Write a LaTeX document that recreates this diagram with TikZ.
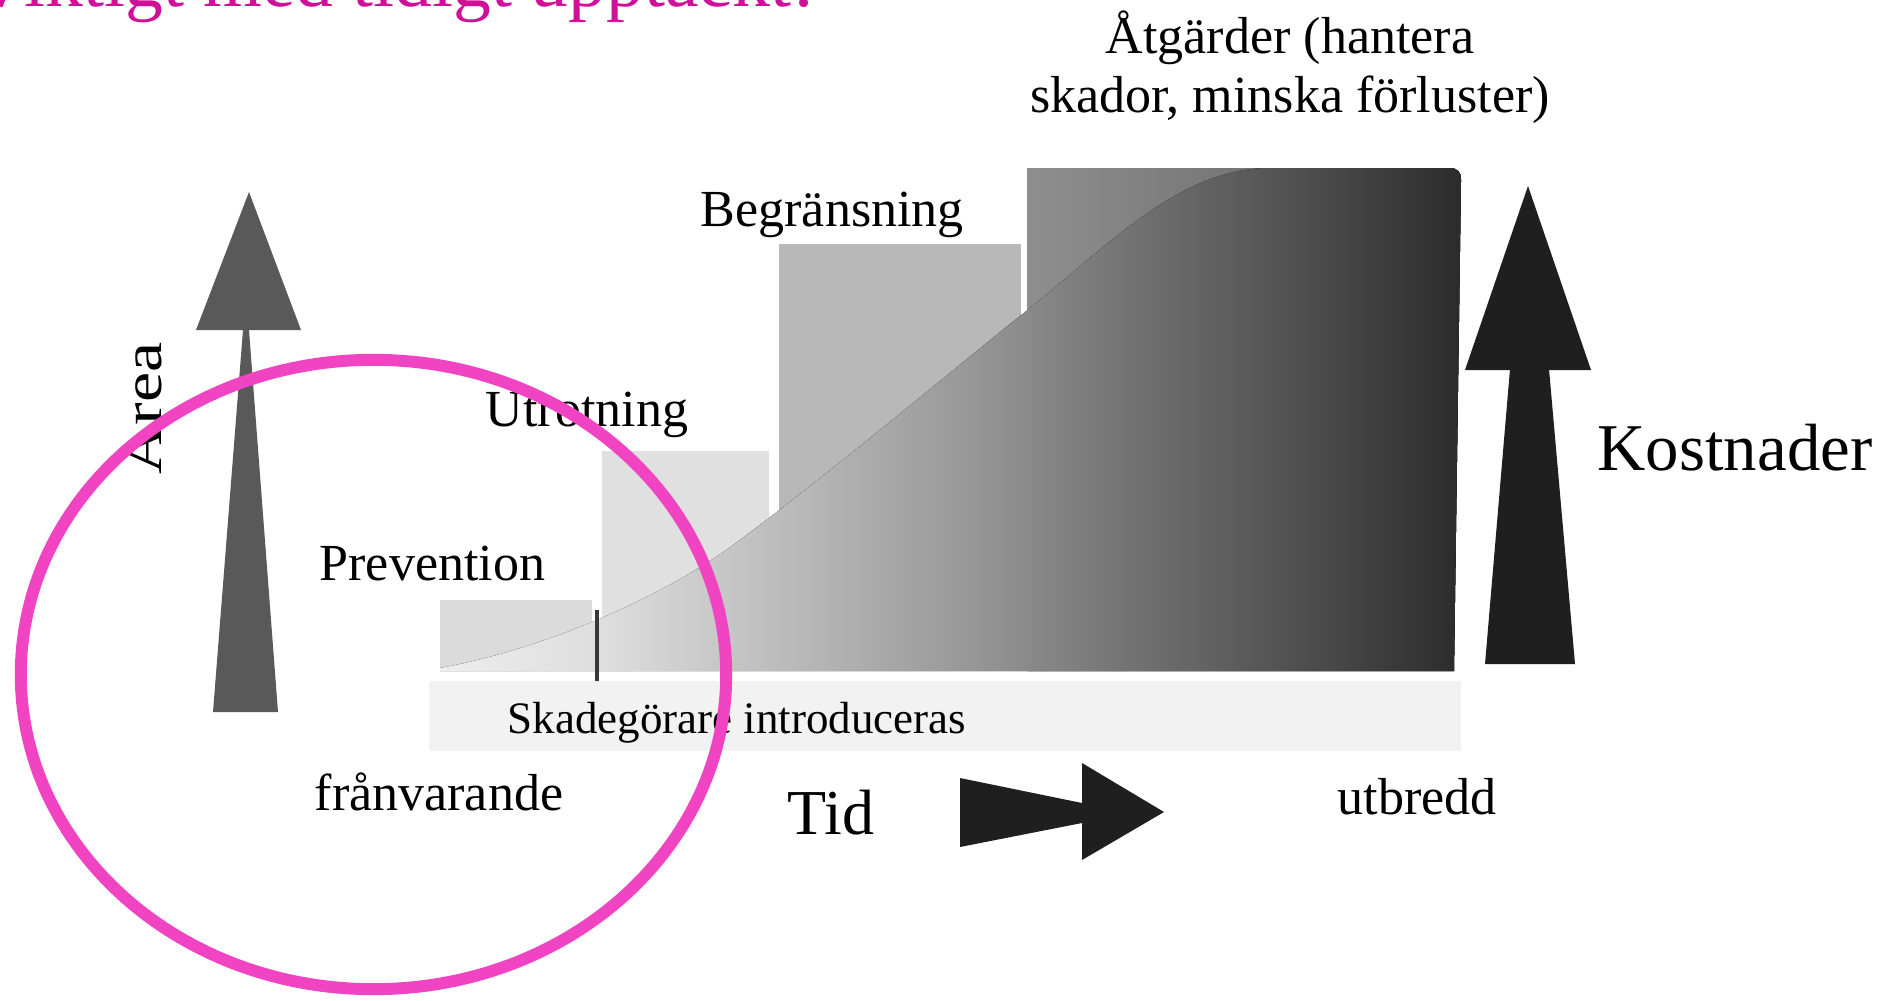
\documentclass[tikz,border=0pt]{standalone}
\usepackage{fontspec}
\setmainfont{Liberation Serif}
\usepackage{graphicx}
\definecolor{titlemag}{RGB}{208,16,152}
\definecolor{ringmag}{RGB}{240,68,194}
\definecolor{prevgray}{gray}{0.86}
\definecolor{utrgray}{gray}{0.88}
\definecolor{beggray}{gray}{0.72}
\definecolor{atgL}{gray}{0.56}
\definecolor{atgR}{gray}{0.36}
\definecolor{stripgray}{gray}{0.95}
\definecolor{areagray}{gray}{0.35}
\definecolor{darkarrow}{gray}{0.12}
\definecolor{markgray}{gray}{0.22}
\pgfdeclarehorizontalshading{costgrad}{100bp}{rgb(0bp)=(0.93,0.93,0.93); rgb(25bp)=(0.93,0.93,0.93); rgb(32.9bp)=(0.87,0.87,0.87); rgb(38.75bp)=(0.78,0.78,0.78); rgb(44.7bp)=(0.69,0.69,0.69); rgb(50.55bp)=(0.60,0.60,0.60); rgb(56.45bp)=(0.49,0.49,0.49); rgb(62.3bp)=(0.39,0.39,0.39); rgb(68.2bp)=(0.29,0.29,0.29); rgb(75bp)=(0.17,0.17,0.17); rgb(100bp)=(0.17,0.17,0.17)}
\tikzset{
  lbl/.style={inner sep=0pt, anchor=base west, font=\fontsize{14.8}{17}\selectfont},
  lblc/.style={inner sep=0pt, anchor=base, font=\fontsize{14.8}{17}\selectfont},
  small/.style={inner sep=0pt, anchor=base west, font=\fontsize{12.8}{15}\selectfont},
  big/.style={inner sep=0pt, anchor=base west, font=\fontsize{19}{22}\selectfont},
  titletext/.style={inner sep=0pt, anchor=base west, text=titlemag, font=\fontsize{21.5}{25}\selectfont},
  ring/.style={draw=ringmag, line width=3.4pt},
}
\begin{document}
\begin{tikzpicture}[x=0.01cm,y=-0.01cm]
\useasboundingbox (0,0) rectangle (1885,1000);
\clip (0,0) rectangle (1885,1000);
\fill[white] (0,0) rectangle (1885,1000);

% title (cut off at the top)
\node[titletext] (title) at (-26,7) {Viktigt med tidigt upptäckt!};

% stepped blocks
\fill[prevgray] (440,600) rectangle (592,671);
\fill[utrgray] (602,451) rectangle (769,671);
\fill[beggray] (779,244) rectangle (1021,671);
\fill[left color=atgL, right color=atgR] (1027,671) -- (1027,168) -- (1449,168)
  .. controls (1458,168) and (1461,172) .. (1461,180) -- (1454,671) -- cycle;

% cost curve with gradient below
\fill[shading=costgrad] (440,671) -- (440,668)
  .. controls (540,650) and (660,600) .. (740,540)
  .. controls (840,465) and (940,380) .. (1030,308)
  .. controls (1110,244) and (1180,168) .. (1270,168)
  -- (1449,168) .. controls (1458,168) and (1461,172) .. (1461,180)
  -- (1454,671) -- cycle;

% introduction marker
\coordinate (mtop) at (597,610);
\coordinate (mbot) at (597,681);
\draw[markgray, line width=1.1pt] (mtop) -- (mbot);

% strip
\fill[stripgray] (429,681) rectangle (1461,751);

% labels
\node[lblc] (atg1) at (1290,54) {Åtgärder (hantera};
\node[lblc] (atg2) at (1290,112) {skador, minska förluster)};
\node[lbl] (beg) at (700,226) {Begränsning};
\node[lbl] (utr) at (485,426) {Utrotning};
\node[lbl] (prev) at (319,580) {Prevention};
\node[small] (intro) at (507,733) {Skadegörare introduceras};
\node[lbl] (fran) at (314,810) {frånvarande};
\node[lbl] (utb) at (1337,814) {utbredd};
\node[inner sep=0pt, anchor=base west, font=\fontsize{18.2}{21}\selectfont] (tid) at (787,834) {Tid};
\node[big] (kost) at (1597,470) {Kostnader};
\node[inner sep=0pt, anchor=base west, rotate=90, font=\fontsize{15.6}{18}\selectfont] (area) at (161,475) {\scalebox{1.24}[1]{Area}};

% area arrow
\fill[areagray] (249,192) -- (196,330) -- (301,330) -- cycle;
\fill[areagray] (243,330) -- (249,330) -- (278,712) -- (213,712) -- cycle;

% cost arrow
\fill[darkarrow] (1528,186) -- (1465,370) -- (1591,370) -- cycle;
\fill[darkarrow] (1510,369) -- (1549,369) -- (1575,664) -- (1485,664) -- cycle;

% time arrow
\fill[darkarrow] (960,778) -- (1082,803) -- (1082,763) -- (1164,812) -- (1082,860) -- (1082,823) -- (960,847) -- cycle;

% magenta ring
\path[ring] (373.5,674.5) ellipse [x radius=3.525cm, y radius=3.145cm];
\end{tikzpicture}
\end{document}
